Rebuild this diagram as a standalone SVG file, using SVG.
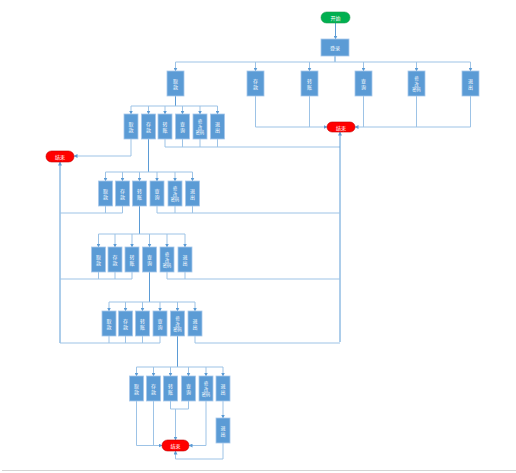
<svg xmlns="http://www.w3.org/2000/svg" width="516" height="473" viewBox="0 0 516 473">
<style>
.b{fill:#5B9BD5;stroke:#A8C8EA;stroke-width:0.8}
.t{fill:#fff;font-family:"Noto Sans CJK SC","Noto Sans",sans-serif;font-size:5px;text-anchor:middle;dominant-baseline:central}
.t4{font-size:4.2px}
.ps{fill:#00B050;stroke:#1E9E50;stroke-width:0.6}
.pe{fill:#FF0000;stroke:#C00000;stroke-width:0.6}
.c{fill:none;stroke:#9DC3E6;stroke-width:1}
.k{fill:none;stroke:#5B9BD5;stroke-width:1}
.a{marker-end:url(#ar)}
</style>
<defs>
<marker id="ar" markerUnits="userSpaceOnUse" markerWidth="4" markerHeight="4" refX="3.5" refY="2" orient="auto"><path d="M0,0 L4,2 L0,4 z" fill="#5B9BD5"/></marker>
</defs>
<rect width="516" height="473" fill="#fff"/>
<line x1="2" y1="470.5" x2="516" y2="470.5" stroke="#d4d4d4" stroke-width="1"/>
<g id="connectors">
<path class="k a" d="M335.5,23 V39"/>
<path class="k" d="M335,56 V62"/>
<path class="c" d="M175.5,62 H470.5"/>
<path class="c a" d="M175.5,62 V71"/><path class="c a" d="M255.5,62 V71"/><path class="c a" d="M309.5,62 V71"/><path class="c a" d="M363.5,62 V71"/><path class="c a" d="M416.5,62 V71"/><path class="c a" d="M470.5,62 V71"/>
<path class="c a" d="M255.5,96 V127 H327"/><path class="c" d="M309.5,96 V127"/>
<path class="c a" d="M470.5,96 V127 H355"/><path class="c" d="M363.5,96 V127"/><path class="c" d="M416.5,96 V127"/>
<path class="k" d="M175.5,96 V106"/>
<path class="c" d="M131,106 H217.5"/>
<path class="c a" d="M131,106 V114"/><path class="c a" d="M148.5,106 V114"/><path class="c a" d="M165,106 V114"/><path class="c a" d="M182.5,106 V114"/><path class="c a" d="M200,106 V114"/><path class="c a" d="M217.5,106 V114"/>
<path class="c a" d="M131,139 V156 H74"/>
<path class="c" d="M165,139 V147 H340"/><path class="c" d="M182.5,139 V147"/><path class="c" d="M200,139 V147"/><path class="c" d="M217.5,139 V147"/>
<path class="k a" d="M340,342 V132"/>
<path class="k a" d="M60,343 V162"/>
<path class="k" d="M148.5,139 V172"/>
<path class="c" d="M105.5,172 H192.5"/>
<path class="c a" d="M105.5,172 V181"/><path class="c a" d="M122.5,172 V181"/><path class="c a" d="M139.5,172 V181"/><path class="c a" d="M157,172 V181"/><path class="c a" d="M175,172 V181"/><path class="c a" d="M192.5,172 V181"/>
<path class="c" d="M105.5,206 V213"/><path class="c" d="M122.5,206 V213 H60"/>
<path class="c" d="M157,206 V213 H340"/><path class="c" d="M175,206 V213"/><path class="c" d="M192.5,206 V213"/>
<path class="k" d="M139.5,206 V234"/>
<path class="c" d="M98.5,234 H185"/>
<path class="c a" d="M98.5,234 V247"/><path class="c a" d="M115,234 V247"/><path class="c a" d="M132,234 V247"/><path class="c a" d="M149.5,234 V247"/><path class="c a" d="M167,234 V247"/><path class="c a" d="M185,234 V247"/>
<path class="c" d="M98.5,272 V279"/><path class="c" d="M115,272 V279"/><path class="c" d="M132,272 V279 H60"/>
<path class="c" d="M167,272 V279 H340"/><path class="c" d="M185,272 V279"/>
<path class="k" d="M149.5,272 V302"/>
<path class="c" d="M109,302 H195"/>
<path class="c a" d="M109,302 V311"/><path class="c a" d="M125.5,302 V311"/><path class="c a" d="M142.5,302 V311"/><path class="c a" d="M160,302 V311"/><path class="c a" d="M177.5,302 V311"/><path class="c a" d="M195,302 V311"/>
<path class="c" d="M109,336 V343"/><path class="c" d="M125.5,336 V343"/><path class="c" d="M142.5,336 V343"/><path class="c" d="M160,336 V343 H60"/>
<path class="c" d="M195,336 V343 H340"/>
<path class="k" d="M177.5,336 V367"/>
<path class="c" d="M136.5,367 H223"/>
<path class="c a" d="M136.5,367 V376"/><path class="c a" d="M153.5,367 V376"/><path class="c a" d="M170.5,367 V376"/><path class="c a" d="M188.5,367 V376"/><path class="c a" d="M206,367 V376"/><path class="c a" d="M223,367 V376"/>
<path class="c a" d="M136.5,401 V445.5 H162"/><path class="c" d="M153.5,401 V445.5"/>
<path class="c" d="M170.5,401 V409 H188.5 V401"/><path class="c a" d="M175.5,409 V440"/>
<path class="c a" d="M206,401 V445.5 H189"/>
<path class="c a" d="M223,401 V418"/>
<path class="c a" d="M223,443 V459 H175.5 V451"/>
</g>
<g id="start"><rect class="ps" x="321" y="12" width="29" height="11" rx="5.5"/><text class="t" x="335.5" y="17.5">开始</text></g>
<g id="login"><rect class="b" x="321" y="39" width="28" height="17"/><text class="t" x="335" y="47.5">登录</text></g>
<g id="l1-withdraw"><rect class="b" x="167" y="71" width="17" height="25"/><text class="t" x="175.5" y="80.5">取</text><text class="t" x="175.5" y="86.5">款</text></g>
<g id="l1-deposit"><rect class="b" x="247" y="71" width="17" height="25"/><text class="t" x="255.5" y="80.5">存</text><text class="t" x="255.5" y="86.5">款</text></g>
<g id="l1-transfer"><rect class="b" x="301" y="71" width="17" height="25"/><text class="t" x="309.5" y="80.5">转</text><text class="t" x="309.5" y="86.5">账</text></g>
<g id="l1-query"><rect class="b" x="355" y="71" width="17" height="25"/><text class="t" x="363.5" y="80.5">查</text><text class="t" x="363.5" y="86.5">询</text></g>
<g id="l1-password"><rect class="b" x="408" y="71" width="17" height="25"/><text class="t t4" x="416.5" y="78">修</text><text class="t t4" x="416.5" y="83.5">改</text><text class="t t4" x="416.5" y="89">密码</text></g>
<g id="l1-exit"><rect class="b" x="462" y="71" width="17" height="25"/><text class="t" x="470.5" y="80.5">退</text><text class="t" x="470.5" y="86.5">出</text></g>
<g id="end1"><rect class="pe" x="327" y="122" width="28" height="10" rx="5"/><text class="t" x="341" y="127">结束</text></g>
<g id="l2-withdraw"><rect class="b" x="124" y="114" width="14" height="25"/><text class="t" x="131" y="123.5">取</text><text class="t" x="131" y="129.5">款</text></g>
<g id="l2-deposit"><rect class="b" x="141.5" y="114" width="14" height="25"/><text class="t" x="148.5" y="123.5">存</text><text class="t" x="148.5" y="129.5">款</text></g>
<g id="l2-transfer"><rect class="b" x="158" y="114" width="14" height="25"/><text class="t" x="165" y="123.5">转</text><text class="t" x="165" y="129.5">账</text></g>
<g id="l2-query"><rect class="b" x="175.5" y="114" width="14" height="25"/><text class="t" x="182.5" y="123.5">查</text><text class="t" x="182.5" y="129.5">询</text></g>
<g id="l2-password"><rect class="b" x="193" y="114" width="14" height="25"/><text class="t t4" x="200" y="121">修</text><text class="t t4" x="200" y="126.5">改</text><text class="t t4" x="200" y="132">密码</text></g>
<g id="l2-exit"><rect class="b" x="210.5" y="114" width="14" height="25"/><text class="t" x="217.5" y="123.5">退</text><text class="t" x="217.5" y="129.5">出</text></g>
<g id="end2"><rect class="pe" x="46" y="151" width="28" height="11" rx="5.5"/><text class="t" x="60" y="156.5">结束</text></g>
<g id="l3-withdraw"><rect class="b" x="98.5" y="181" width="14" height="25"/><text class="t" x="105.5" y="190.5">取</text><text class="t" x="105.5" y="196.5">款</text></g>
<g id="l3-deposit"><rect class="b" x="115.5" y="181" width="14" height="25"/><text class="t" x="122.5" y="190.5">存</text><text class="t" x="122.5" y="196.5">款</text></g>
<g id="l3-transfer"><rect class="b" x="132.5" y="181" width="14" height="25"/><text class="t" x="139.5" y="190.5">转</text><text class="t" x="139.5" y="196.5">账</text></g>
<g id="l3-query"><rect class="b" x="150" y="181" width="14" height="25"/><text class="t" x="157" y="190.5">查</text><text class="t" x="157" y="196.5">询</text></g>
<g id="l3-password"><rect class="b" x="168" y="181" width="14" height="25"/><text class="t t4" x="175" y="188">修</text><text class="t t4" x="175" y="193.5">改</text><text class="t t4" x="175" y="199">密码</text></g>
<g id="l3-exit"><rect class="b" x="185.5" y="181" width="14" height="25"/><text class="t" x="192.5" y="190.5">退</text><text class="t" x="192.5" y="196.5">出</text></g>
<g id="l4-withdraw"><rect class="b" x="91.5" y="247" width="14" height="25"/><text class="t" x="98.5" y="256.5">取</text><text class="t" x="98.5" y="262.5">款</text></g>
<g id="l4-deposit"><rect class="b" x="108" y="247" width="14" height="25"/><text class="t" x="115" y="256.5">存</text><text class="t" x="115" y="262.5">款</text></g>
<g id="l4-transfer"><rect class="b" x="125" y="247" width="14" height="25"/><text class="t" x="132" y="256.5">转</text><text class="t" x="132" y="262.5">账</text></g>
<g id="l4-query"><rect class="b" x="142.5" y="247" width="14" height="25"/><text class="t" x="149.5" y="256.5">查</text><text class="t" x="149.5" y="262.5">询</text></g>
<g id="l4-password"><rect class="b" x="160" y="247" width="14" height="25"/><text class="t t4" x="167" y="254">修</text><text class="t t4" x="167" y="259.5">改</text><text class="t t4" x="167" y="265">密码</text></g>
<g id="l4-exit"><rect class="b" x="178" y="247" width="14" height="25"/><text class="t" x="185" y="256.5">退</text><text class="t" x="185" y="262.5">出</text></g>
<g id="l5-withdraw"><rect class="b" x="102" y="311" width="14" height="25"/><text class="t" x="109" y="320.5">取</text><text class="t" x="109" y="326.5">款</text></g>
<g id="l5-deposit"><rect class="b" x="118.5" y="311" width="14" height="25"/><text class="t" x="125.5" y="320.5">存</text><text class="t" x="125.5" y="326.5">款</text></g>
<g id="l5-transfer"><rect class="b" x="135.5" y="311" width="14" height="25"/><text class="t" x="142.5" y="320.5">转</text><text class="t" x="142.5" y="326.5">账</text></g>
<g id="l5-query"><rect class="b" x="153" y="311" width="14" height="25"/><text class="t" x="160" y="320.5">查</text><text class="t" x="160" y="326.5">询</text></g>
<g id="l5-password"><rect class="b" x="170.5" y="311" width="14" height="25"/><text class="t t4" x="177.5" y="318">修</text><text class="t t4" x="177.5" y="323.5">改</text><text class="t t4" x="177.5" y="329">密码</text></g>
<g id="l5-exit"><rect class="b" x="188" y="311" width="14" height="25"/><text class="t" x="195" y="320.5">退</text><text class="t" x="195" y="326.5">出</text></g>
<g id="l6-withdraw"><rect class="b" x="129.5" y="376" width="14" height="25"/><text class="t" x="136.5" y="385.5">取</text><text class="t" x="136.5" y="391.5">款</text></g>
<g id="l6-deposit"><rect class="b" x="146.5" y="376" width="14" height="25"/><text class="t" x="153.5" y="385.5">存</text><text class="t" x="153.5" y="391.5">款</text></g>
<g id="l6-transfer"><rect class="b" x="163.5" y="376" width="14" height="25"/><text class="t" x="170.5" y="385.5">转</text><text class="t" x="170.5" y="391.5">账</text></g>
<g id="l6-query"><rect class="b" x="181.5" y="376" width="14" height="25"/><text class="t" x="188.5" y="385.5">查</text><text class="t" x="188.5" y="391.5">询</text></g>
<g id="l6-password"><rect class="b" x="199" y="376" width="14" height="25"/><text class="t t4" x="206" y="383">修</text><text class="t t4" x="206" y="388.5">改</text><text class="t t4" x="206" y="394">密码</text></g>
<g id="l6-exit"><rect class="b" x="216" y="376" width="14" height="25"/><text class="t" x="223" y="385.5">退</text><text class="t" x="223" y="391.5">出</text></g>
<g id="l6-exit2"><rect class="b" x="216" y="418" width="14" height="25"/><text class="t" x="223" y="427.5">退</text><text class="t" x="223" y="433.5">出</text></g>
<g id="end3"><rect class="pe" x="162" y="440" width="27" height="11" rx="5.5"/><text class="t" x="175.5" y="445.5">结束</text></g>
</svg>
